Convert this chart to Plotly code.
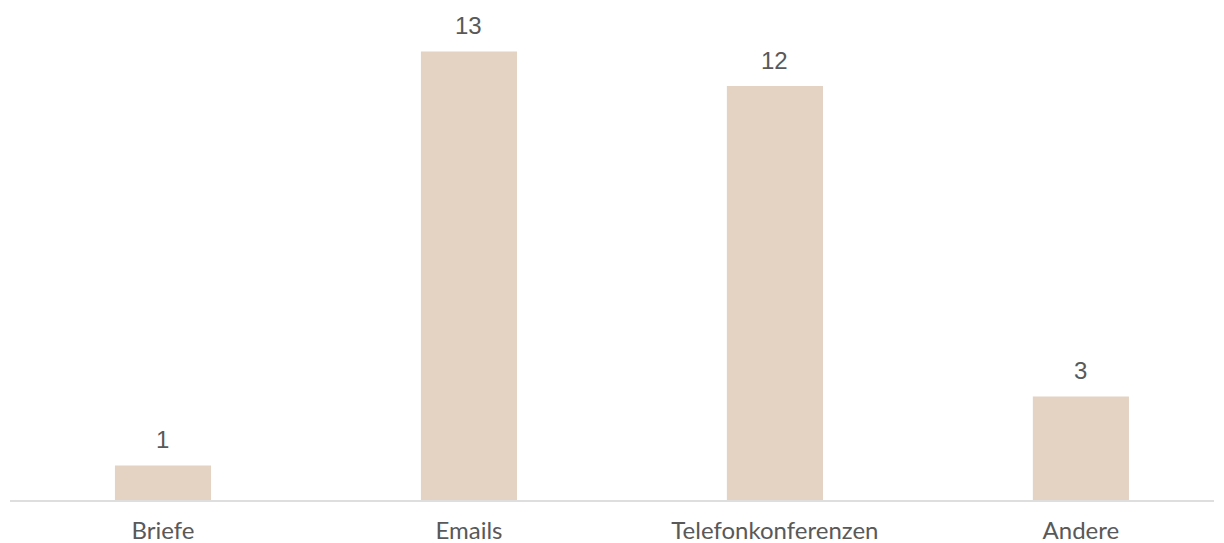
import plotly.graph_objects as go

categories = ["Briefe", "Emails", "Telefonkonferenzen", "Andere"]
values = [1, 13, 12, 3]

fig = go.Figure()
fig.add_trace(go.Bar(x=categories, y=values, marker_color="#e4d2c3", marker_line_width=0, width=0.314))

for c, v in zip(categories, values):
    fig.add_annotation(x=c, y=v, text=str(v), showarrow=False, yanchor="bottom", yshift=10,
                       font=dict(family="Liberation Sans", size=24, color="#595959"))

fig.update_layout(
    width=1224, height=543,
    margin=dict(l=10, r=10, t=0, b=43),
    paper_bgcolor="white", plot_bgcolor="white",
    showlegend=False,
    font=dict(family="Lato", size=24, color="#595959"),
)
fig.update_xaxes(range=[-0.5, 3.435], showline=True, linecolor="#dedede", linewidth=2, ticks="outside", ticklen=8,
                 tickcolor="rgba(0,0,0,0)", tickfont=dict(family="Lato", size=24, color="#595959"),
                 showgrid=False, automargin=False)
fig.update_yaxes(visible=False, range=[0, 14.49], showgrid=False, automargin=False)

fig.write_html("out.html")
